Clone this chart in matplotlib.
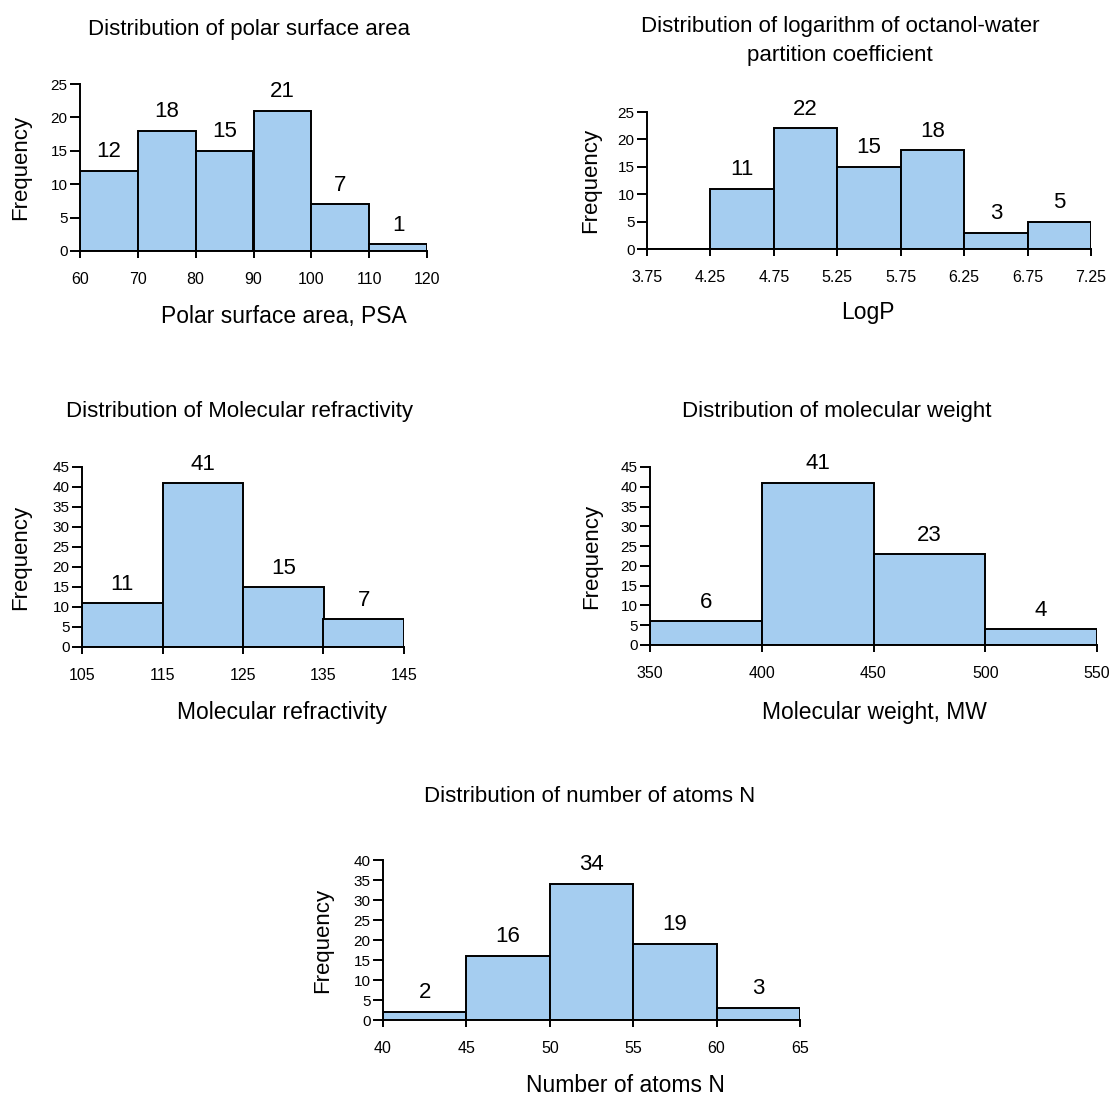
import matplotlib
matplotlib.use('Agg')
from matplotlib import pyplot as plt

plt.rcParams['font.family'] = ['Liberation Sans', 'DejaVu Sans']

W, H = 1112, 1095
BAR_COLOR = '#a5cdf0'

# --- data -------------------------------------------------------------
psa_edges = [60, 70, 80, 90, 100, 110, 120]
psa_counts = [12, 18, 15, 21, 7, 1]

logp_edges = [3.75, 4.25, 4.75, 5.25, 5.75, 6.25, 6.75, 7.25]
logp_counts = [0, 11, 22, 15, 18, 3, 5]

mr_edges = [105, 115, 125, 135, 145]
mr_counts = [11, 41, 15, 7]

mw_edges = [350, 400, 450, 500, 550]
mw_counts = [6, 41, 23, 4]

atoms_edges = [40, 45, 50, 55, 60, 65]
atoms_counts = [2, 16, 34, 19, 3]


def px_axes(fig, x0, x1, y_bottom, y_top):
    # pixel box (image coords, y down) -> figure fraction
    return fig.add_axes([x0 / W, 1 - y_bottom / H, (x1 - x0) / W, (y_bottom - y_top) / H])


def histogram(ax, edges, counts, ymax, xlabels, title, xlabel,
              title_xy, xlabel_xy, ylabel_x, box):
    widths = [edges[i + 1] - edges[i] for i in range(len(counts))]
    ax.bar(edges[:-1], counts, width=widths, align='edge',
           color=BAR_COLOR, edgecolor='black', linewidth=1.4)
    for left, w, c in zip(edges[:-1], widths, counts):
        if c > 0:
            ax.annotate(str(c), (left + w / 2, c), xytext=(0, 19), textcoords='offset pixels',
                        ha='center', va='center', fontsize=16)
    ax.set_xlim(edges[0], edges[-1])
    ax.set_ylim(0, ymax)
    ax.set_xticks(edges)
    ax.set_xticklabels(xlabels)
    ax.set_yticks(range(0, ymax + 1, 5))
    ax.spines['top'].set_visible(False)
    ax.spines['right'].set_visible(False)
    ax.spines['left'].set_linewidth(1.4)
    ax.spines['bottom'].set_linewidth(1.4)
    ax.tick_params(axis='x', direction='out', length=5, width=1.4, labelsize=11.5, pad=10)
    ax.tick_params(axis='y', direction='out', length=7, width=1.4, labelsize=11, pad=2)
    ax.set_ylabel('Frequency', fontsize=16)
    # ylabel anchor is the right edge of the rotated text
    x0, x1, yb, yt = box
    ax.yaxis.set_label_coords((ylabel_x - x0) / (x1 - x0), 0.5)
    fig = ax.figure
    fig.text(title_xy[0] / W, 1 - title_xy[1] / H, title, ha='center', va='center',
             fontsize=16, linespacing=1.45)
    fig.text(xlabel_xy[0] / W, 1 - xlabel_xy[1] / H, xlabel, ha='center', va='center',
             fontsize=16.5)


fig = plt.figure(figsize=(W / 100, H / 100), dpi=100)

box1 = (80, 427, 251, 84)
histogram(px_axes(fig, *box1), psa_edges, psa_counts, 25, [str(e) for e in psa_edges],
          'Distribution of polar surface area', 'Polar surface area, PSA',
          (249, 29), (284, 316), 31, box1)

box2 = (647, 1091, 249, 112)
histogram(px_axes(fig, *box2), logp_edges, logp_counts, 25, ['%.2f' % e for e in logp_edges],
          'Distribution of logarithm of octanol-water\npartition coefficient', 'LogP',
          (840, 41), (868, 313), 601, box2)

box3 = (82, 404, 647, 467)
histogram(px_axes(fig, *box3), mr_edges, mr_counts, 45, [str(e) for e in mr_edges],
          'Distribution of Molecular refractivity', 'Molecular refractivity',
          (240, 411), (282, 713), 31, box3)

box4 = (650, 1097, 645, 467)
histogram(px_axes(fig, *box4), mw_edges, mw_counts, 45, [str(e) for e in mw_edges],
          'Distribution of molecular weight', 'Molecular weight, MW',
          (837, 411), (874, 713), 602, box4)

box5 = (383, 800, 1020, 860)
histogram(px_axes(fig, *box5), atoms_edges, atoms_counts, 40, [str(e) for e in atoms_edges],
          'Distribution of number of atoms N', 'Number of atoms N',
          (590, 797), (625, 1085), 333, box5)

fig.savefig('out.png', dpi=100)
